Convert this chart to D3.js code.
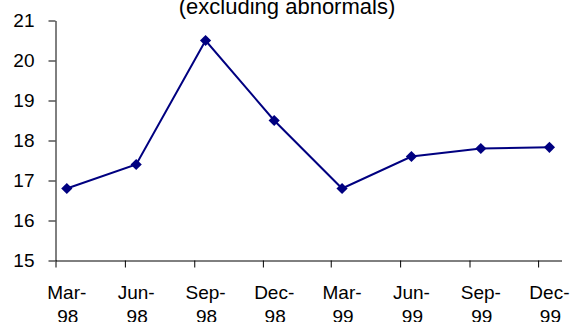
<!DOCTYPE html>
<html>
<head>
<meta charset="utf-8">
<script src="https://cdn.jsdelivr.net/npm/d3@7"></script>
<style>
  html, body { margin: 0; padding: 0; background: #fff; }
  svg { display: block; font-family: Arial, "Liberation Sans", sans-serif; }
</style>
</head>
<body>
<svg id="chart" width="573" height="322"></svg>
<script>
// ---- data ----
const categories = ["Mar-98", "Jun-98", "Sep-98", "Dec-98", "Mar-99", "Jun-99", "Sep-99", "Dec-99"];
const pointDates = ["1998-03-16", "1998-06-16", "1998-09-16", "1998-12-16", "1999-03-16", "1999-06-16", "1999-09-16", "1999-12-16"];
const values = [16.8, 17.4, 20.5, 18.5, 16.8, 17.6, 17.8, 17.83];
const yTicks = [15, 16, 17, 18, 19, 20, 21];
const titleText = "(excluding abnormals)";

const parse = d3.timeParse("%Y-%m-%d");
const data = categories.map((c, i) => ({ label: c, date: parse(pointDates[i]), value: values[i] }));

const svg = d3.select("#chart");
const x = d3.scaleTime()
  .domain([new Date(1998, 2, 1), new Date(2000, 0, 1)])
  .range([55.5, 561.5]);
const y = d3.scaleLinear().domain([15, 21]).range([260.5, 20.5]);

// title (first line clipped above)
svg.append("text")
  .attr("x", 287).attr("y", 13.5)
  .attr("text-anchor", "middle")
  .attr("font-size", 22)
  .attr("fill", "#000")
  .text(titleText);

// y axis
const yAxis = svg.append("g")
  .attr("transform", `translate(${x.range()[0]},0)`)
  .call(d3.axisLeft(y).tickValues(yTicks).tickFormat(d3.format("d"))
    .tickSize(7).tickSizeOuter(0).tickPadding(14));
yAxis.select(".domain").attr("stroke", "#000");
yAxis.selectAll(".tick line").attr("stroke", "#000");
yAxis.selectAll(".tick text").attr("font-size", 19).attr("fill", "#000")
  .attr("font-family", "Arial, 'Liberation Sans', sans-serif");

// x axis with ticks at quarter starts (Mar, Jun, Sep, Dec)
const tickDates = d3.timeMonth.range(new Date(1998, 2, 1), new Date(2000, 0, 1), 3);
const xAxis = svg.append("g")
  .attr("transform", `translate(0,${y(15)})`)
  .call(d3.axisBottom(x).tickValues(tickDates).tickSize(7).tickSizeOuter(0).tickFormat(""));
xAxis.select(".domain").attr("stroke", "#000");
xAxis.selectAll(".tick line").attr("stroke", "#000");

// x labels, two lines, centred on the points
const lbl = svg.append("g").selectAll("text").data(data).join("text")
  .attr("text-anchor", "middle")
  .attr("font-size", 19)
  .attr("fill", "#000");
lbl.append("tspan").attr("x", d => x(d.date)).attr("y", 298.5).text(d => d.label.split("-")[0] + "-");
lbl.append("tspan").attr("x", d => x(d.date) + 1).attr("y", 323).text(d => d.label.split("-")[1]);

// line
svg.append("path")
  .datum(data)
  .attr("fill", "none")
  .attr("stroke", "#000080")
  .attr("stroke-width", 2)
  .attr("d", d3.line().x(d => x(d.date)).y(d => y(d.value)));

// diamond markers
const r = 5.6;
svg.append("g").selectAll("path").data(data).join("path")
  .attr("fill", "#000080")
  .attr("d", d => {
    const cx = x(d.date), cy = y(d.value);
    return `M${cx},${cy - r}L${cx + r},${cy}L${cx},${cy + r}L${cx - r},${cy}Z`;
  });
</script>
</body>
</html>
